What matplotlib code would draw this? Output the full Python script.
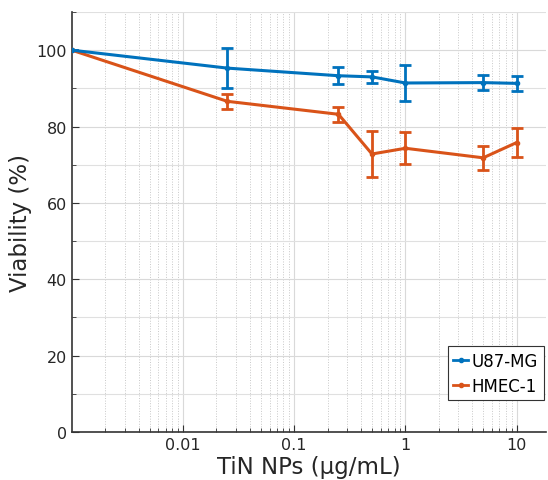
import matplotlib.pyplot as plt
from matplotlib.lines import Line2D
from matplotlib.ticker import FixedLocator, NullFormatter, LogLocator

# Data
conc = [0.001, 0.025, 0.25, 0.5, 1, 5, 10]
u87_mean = [100, 95.3, 93.3, 93.0, 91.4, 91.5, 91.3]
u87_err = [0, 5.2, 2.2, 1.5, 4.7, 2.0, 2.0]
hmec_mean = [100, 86.6, 83.2, 72.8, 74.3, 71.8, 75.8]
hmec_err = [0, 1.9, 2.0, 6.0, 4.2, 3.1, 3.7]
labels = ['U87-MG', 'HMEC-1']

blue = '#0072BD'
orange = '#D95319'

fig = plt.figure(figsize=(5.48, 4.81), dpi=100)
ax = fig.add_axes([0.131, 0.1, 0.866, 0.873])

ax.errorbar(conc, u87_mean, yerr=u87_err, color=blue, lw=2.2, marker='o', ms=3,
            capsize=4, capthick=2, elinewidth=2, zorder=4)
ax.errorbar(conc, hmec_mean, yerr=hmec_err, color=orange, lw=2.2, marker='o', ms=3,
            capsize=4, capthick=2, elinewidth=2, zorder=3)

ax.set_xscale('log')
ax.set_xlim(0.001, 18.5)
ax.set_ylim(0, 110)
ax.set_xticks([0.01, 0.1, 1, 10])
ax.set_xticklabels(['0.01', '0.1', '1', '10'])
ax.xaxis.set_minor_locator(LogLocator(base=10, subs=range(2, 10), numticks=20))
ax.xaxis.set_minor_formatter(NullFormatter())
ax.set_yticks([0, 20, 40, 60, 80, 100])
ax.yaxis.set_minor_locator(FixedLocator([10, 30, 50, 70, 90, 110]))

ax.grid(which='major', color='#d9d9d9', lw=0.8, ls='-')
ax.grid(which='minor', axis='x', color='#c8c8c8', lw=0.7, ls=':')
ax.grid(which='minor', axis='y', color='#e0e0e0', lw=0.8, ls='-')
ax.set_axisbelow(True)

for s in ['top', 'right']:
    ax.spines[s].set_visible(False)
for s in ['left', 'bottom']:
    ax.spines[s].set_color('#333333')
    ax.spines[s].set_linewidth(1.2)

ax.tick_params(which='both', direction='in', colors='#333333', labelsize=11.5,
               labelcolor='#262626')
ax.tick_params(which='major', length=5)
ax.tick_params(which='minor', length=3)

ax.set_xlabel('TiN NPs (µg/mL)', fontsize=16.5, color='#262626', labelpad=2)
ax.set_ylabel('Viability (%)', fontsize=16.5, color='#262626', labelpad=3)

handles = [Line2D([], [], color=blue, lw=2, marker='o', ms=3),
           Line2D([], [], color=orange, lw=2, marker='o', ms=3)]
leg = ax.legend(handles, labels, loc='lower right', bbox_to_anchor=(0.995, 0.075),
                fontsize=12, handlelength=0.9, handletextpad=0.2, borderpad=0.35,
                labelspacing=0.4, fancybox=False, framealpha=1,
                edgecolor='#333333', borderaxespad=0)
leg.get_frame().set_linewidth(0.8)

fig.savefig('out.png', dpi=100)
